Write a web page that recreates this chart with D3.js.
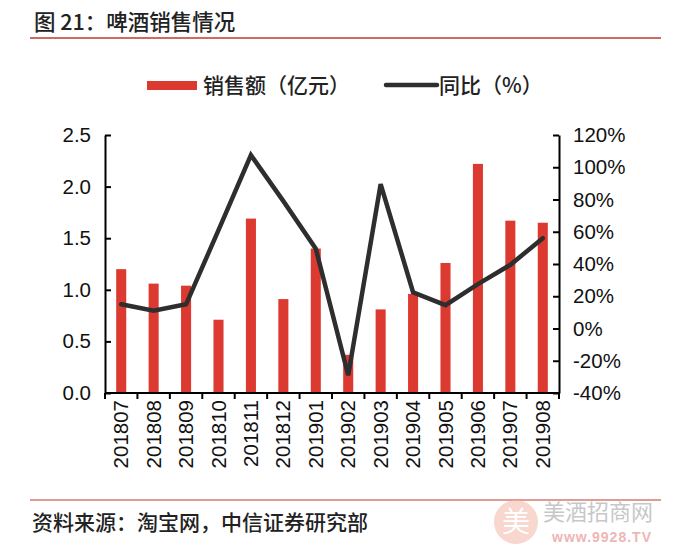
<!DOCTYPE html>
<html>
<head>
<meta charset="utf-8">
<script src="https://cdn.jsdelivr.net/npm/d3@7"></script>
<style>
  html, body { margin: 0; padding: 0; background: #fff; }
  svg { display: block; }
</style>
</head>
<body>
<svg id="chart" width="673" height="556"></svg>
<script>
// ---- data ----
const categories = ["201807","201808","201809","201810","201811","201812","201901","201902","201903","201904","201905","201906","201907","201908"];
const salesValues = [1.20, 1.06, 1.04, 0.71, 1.69, 0.91, 1.40, 0.37, 0.81, 0.96, 1.26, 2.22, 1.67, 1.65];
const yoyValues = [15.0, 11.0, 15.0, 61.0, 107.5, 79.0, 49.5, -29.0, 89.5, 22.5, 14.5, 27.5, 39.5, 56.0];
const leftTicks = [0, 0.5, 1.0, 1.5, 2.0, 2.5];
const rightTicks = [-40, -20, 0, 20, 40, 60, 80, 100, 120];
const titleText = "图 21：啤酒销售情况";
const sourceText = "资料来源：淘宝网，中信证券研究部";
const legendBar = "销售额（亿元）";
const legendLine = "同比（%）";

const RED = "#dc3a31";
const LINE = "#2e2e2e";
const latin = "'Liberation Sans', Arial, sans-serif";
const cjk = "'Noto Sans CJK SC', 'Noto Sans', sans-serif";

const svg = d3.select("#chart");

// title
svg.append("text").attr("x", 34).attr("y", 30)
  .attr("font-family", cjk).attr("font-size", 21.5).attr("font-weight", 500).attr("fill", "#222")
  .text(titleText);
svg.append("line").attr("x1", 30).attr("x2", 661).attr("y1", 38).attr("y2", 38)
  .attr("stroke", "#c0392b").attr("stroke-width", 1.5);

// plot geometry
const x0 = 105, x1 = 559, yTop = 135, yBot = 393;
const x = d3.scaleBand().domain(categories).range([x0, x1]).paddingInner(0.69).paddingOuter(0.345);
const yL = d3.scaleLinear().domain([0, 2.5]).range([yBot, yTop]);
const yR = d3.scaleLinear().domain([-40, 120]).range([yBot, yTop]);
const xCenter = c => x(c) + x.bandwidth() / 2;

// bars
svg.append("g").selectAll("rect").data(categories).join("rect")
  .attr("x", d => x(d))
  .attr("width", x.bandwidth())
  .attr("y", (d, i) => yL(salesValues[i]))
  .attr("height", (d, i) => yBot - yL(salesValues[i]))
  .attr("fill", RED);

// line
const lineGen = d3.line().x((d, i) => xCenter(categories[i])).y(d => yR(d));
svg.append("path").datum(yoyValues)
  .attr("d", lineGen)
  .attr("fill", "none").attr("stroke", LINE).attr("stroke-width", 4.5)
  .attr("stroke-linejoin", "miter").attr("stroke-linecap", "round");

// left axis
const gL = svg.append("g").attr("transform", `translate(${x0},0)`)
  .call(d3.axisLeft(yL).tickValues(leftTicks).tickFormat(d3.format(".1f")).tickSizeInner(-6).tickSizeOuter(0).tickPadding(14));
// right axis
const gR = svg.append("g").attr("transform", `translate(${x1},0)`)
  .call(d3.axisRight(yR).tickValues(rightTicks).tickFormat(d => d + "%").tickSizeInner(-6).tickSizeOuter(0).tickPadding(14));
[gL, gR].forEach(g => {
  g.select(".domain").attr("stroke", "#000").attr("stroke-width", 2);
  g.selectAll(".tick line").attr("stroke", "#000").attr("stroke-width", 2);
  g.selectAll(".tick text").attr("font-family", latin).attr("font-size", 20.5).attr("fill", "#111");
});

// bottom axis
const xEdges = d3.scaleLinear().domain([0, categories.length]).range([x0, x1]);
const gB = svg.append("g");
gB.append("line").attr("x1", x0).attr("x2", x1).attr("y1", yBot).attr("y2", yBot)
  .attr("stroke", "#000").attr("stroke-width", 2);
gB.selectAll("line.tk").data(d3.range(categories.length + 1)).join("line")
  .attr("class", "tk")
  .attr("x1", d => xEdges(d)).attr("x2", d => xEdges(d))
  .attr("y1", yBot).attr("y2", yBot + 6)
  .attr("stroke", "#000").attr("stroke-width", 2);
gB.selectAll("text").data(categories).join("text")
  .attr("transform", d => `translate(${xCenter(d) + 7},${400}) rotate(-90)`)
  .attr("text-anchor", "end")
  .attr("font-family", latin).attr("font-size", 20.5).attr("fill", "#111")
  .text(d => d);

// legend
svg.append("rect").attr("x", 147).attr("y", 81).attr("width", 50).attr("height", 9).attr("fill", RED);
svg.append("text").attr("x", 203).attr("y", 93)
  .attr("font-family", cjk).attr("font-size", 21).attr("font-weight", 500).attr("fill", "#222").text(legendBar);
svg.append("line").attr("x1", 386).attr("x2", 437).attr("y1", 85).attr("y2", 85)
  .attr("stroke", LINE).attr("stroke-width", 4.5).attr("stroke-linecap", "round");
svg.append("text").attr("x", 439).attr("y", 93)
  .attr("font-family", cjk).attr("font-size", 21).attr("font-weight", 500).attr("fill", "#222").text(legendLine);

// footer
svg.append("line").attr("x1", 30).attr("x2", 661).attr("y1", 500).attr("y2", 500)
  .attr("stroke", "#c0392b").attr("stroke-width", 1.2);
svg.append("text").attr("x", 32).attr("y", 530)
  .attr("font-family", cjk).attr("font-size", 21).attr("font-weight", 500).attr("fill", "#222").text(sourceText);

// watermark
const wm = svg.append("g").attr("opacity", 0.55);
wm.append("circle").attr("cx", 516).attr("cy", 522).attr("r", 22).attr("fill", "#f3b7a8");
wm.append("text").attr("x", 516).attr("y", 532).attr("text-anchor", "middle")
  .attr("font-family", cjk).attr("font-size", 28).attr("fill", "#fff").text("美");
wm.append("text").attr("x", 543).attr("y", 520)
  .attr("font-family", cjk).attr("font-size", 22).attr("fill", "#9a9a9a").text("美酒招商网");
wm.append("text").attr("x", 552).attr("y", 542)
  .attr("font-family", latin).attr("font-size", 14).attr("font-weight", "bold").attr("fill", "#e07a7a")
  .attr("letter-spacing", 1).text("www.9928.TV");
</script>
</body>
</html>
